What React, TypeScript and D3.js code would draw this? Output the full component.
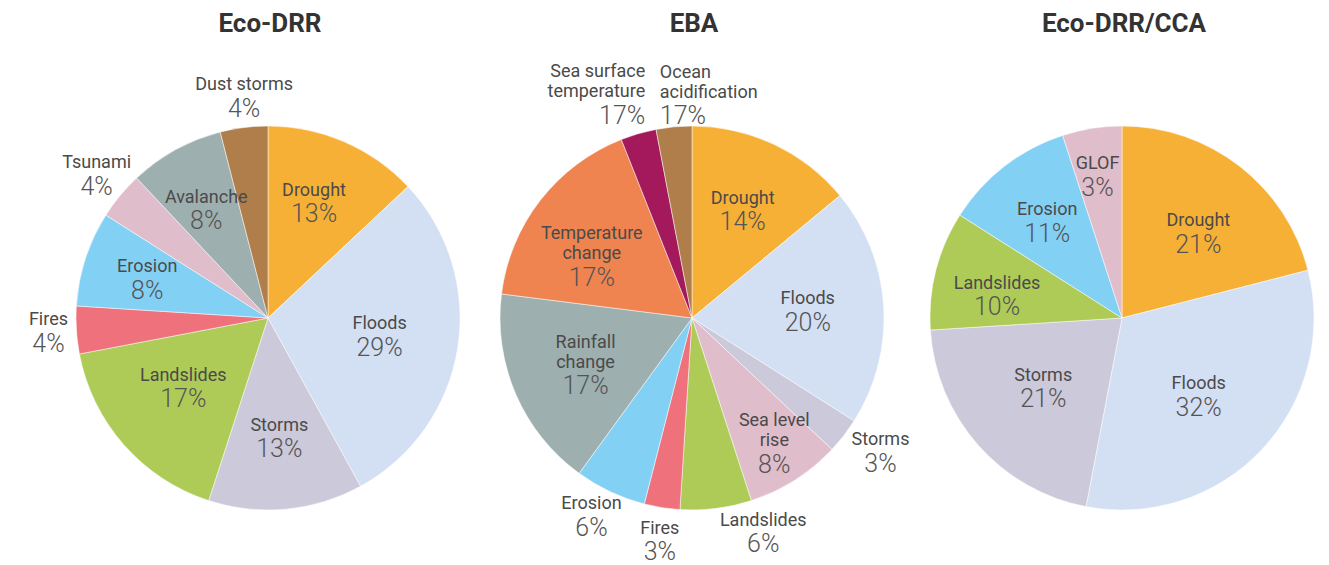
import React from "react";
import * as d3 from "d3";

// ---------- DATA ----------
const drrCategories = ["Drought", "Floods", "Storms", "Landslides", "Fires", "Erosion", "Tsunami", "Avalanche", "Dust storms"];
const drrValues = [13, 29, 13, 17, 4, 8, 4, 8, 4];
const drrPctLabels = ["13%", "29%", "13%", "17%", "4%", "8%", "4%", "8%", "4%"];

const ebaCategories = ["Drought", "Floods", "Storms", "Sea level\nrise", "Landslides", "Fires", "Erosion", "Rainfall\nchange", "Temperature\nchange", "Sea surface\ntemperature", "Ocean\nacidification"];
const ebaValues = [14, 20, 3, 8, 6, 3, 6, 17, 17, 3, 3];
const ebaPctLabels = ["14%", "20%", "3%", "8%", "6%", "3%", "6%", "17%", "17%", "17%", "17%"];

const ccaCategories = ["Drought", "Floods", "Storms", "Landslides", "Erosion", "GLOF"];
const ccaValues = [21, 32, 21, 10, 11, 5];
const ccaPctLabels = ["21%", "32%", "21%", "10%", "11%", "3%"];

const chartTitles = ["Eco-DRR", "EBA", "Eco-DRR/CCA"];

// ---------- STYLES / LAYOUT ----------
const colorMap: Record<string, string> = {
  "Drought": "#F7B036",
  "Floods": "#D3DFF3",
  "Storms": "#CCC9DA",
  "Landslides": "#AECB57",
  "Fires": "#EE717C",
  "Erosion": "#83D0F5",
  "Tsunami": "#E0BDCB",
  "Avalanche": "#9EAFAF",
  "Dust storms": "#B07E4A",
  "Sea level\nrise": "#E0BDCB",
  "Rainfall\nchange": "#9EAFAF",
  "Temperature\nchange": "#EF8450",
  "Sea surface\ntemperature": "#A3195B",
  "Ocean\nacidification": "#B07E4A",
  "GLOF": "#E0BDCB",
};

type LabelLayout = { r: number; dx?: number; dy?: number; anchor?: string };

const drrLayout: LabelLayout[] = [
  { r: 126, dx: -4 }, { r: 113 }, { r: 120 }, { r: 109, dx: -3, dy: -3 }, { r: 220 },
  { r: 127 }, { r: 225, dx: 2 }, { r: 124, dx: -2 }, { r: 223, dx: 4 },
];
const ebaLayout: LabelLayout[] = [
  { r: 119 }, { r: 116 }, { r: 231, dx: 6, dy: -8 }, { r: 148, dx: 3 }, { r: 225, dx: 43, dy: -9 },
  { r: 225, dx: 3 }, { r: 222, dx: -6, dy: -3 }, { r: 116 }, { r: 118, dx: -7, dy: 10 },
  { r: 225, dx: 16, dy: -8, anchor: "end" }, { r: 225, dx: -11, dy: 0, anchor: "start" },
];
const ccaLayout: LabelLayout[] = [
  { r: 118, dx: 4, dy: 8 }, { r: 108, dx: -2, dy: 4 }, { r: 105 }, { r: 127, dx: -2, dy: 9 }, { r: 122 }, { r: 144, dx: -2 },
];

const W = 1329;
const H = 565;
const R = 192;
const centers = [
  { x: 268, y: 318 },
  { x: 692, y: 318 },
  { x: 1122, y: 318 },
];

type PieProps = {
  title: string;
  categories: string[];
  values: number[];
  pctLabels: string[];
  layout: LabelLayout[];
  cx: number;
  cy: number;
};

function Pie({ title, categories, values, pctLabels, layout, cx, cy }: PieProps) {
  const items = categories.map((c, i) => ({ name: c, value: values[i], pct: pctLabels[i], i }));
  const pie = d3.pie<any>().sort(null).value((d: any) => d.value);
  const arcs = pie(items);
  const arc = d3.arc<any>().innerRadius(0).outerRadius(R);

  return (
    <g>
      <text
        x={cx + 2}
        y={32}
        textAnchor="middle"
        fontFamily="Roboto, 'Noto Sans', sans-serif"
        fontWeight={700}
        fontSize={26}
        fill="#333"
      >
        {title}
      </text>
      <g transform={`translate(${cx},${cy})`}>
        {arcs.map((a: any, i: number) => (
          <path key={i} d={arc(a) as string} fill={colorMap[a.data.name]} stroke="#ffffff" strokeWidth={0.5} />
        ))}
        {arcs.map((a: any, i: number) => {
          const lay = layout[i];
          const mid = (a.startAngle + a.endAngle) / 2;
          const px = lay.r * Math.sin(mid) + (lay.dx || 0);
          const py = -lay.r * Math.cos(mid) + (lay.dy || 0);
          const lines = a.data.name.split("\n");
          const n = lines.length;
          const lh = 20;
          const first = py - (13 + lh * (n - 1)) / 2;
          const anchor = lay.anchor || "middle";
          return (
            <g key={"l" + i}>
              {lines.map((ln: string, j: number) => (
                <text key={j} x={px} y={first + j * lh} textAnchor={anchor} fontFamily="Roboto, 'Noto Sans', sans-serif" fontSize={18} fill="#4a4a4a">
                  {ln}
                </text>
              ))}
              <text x={px} y={first + lh * (n - 1) + 26.5} textAnchor={anchor} fontFamily="'Roboto Light', Roboto, 'Noto Sans', sans-serif" fontSize={25} fontWeight={300} fill="#555">
                {a.data.pct}
              </text>
            </g>
          );
        })}
      </g>
    </g>
  );
}

export default function App() {
  return (
    <svg
      width={W}
      height={H}
      viewBox={`0 0 ${W} ${H}`}
      style={{ position: "absolute", left: 0, top: 0, display: "block", background: "#fff" }}
    >
      <rect x={0} y={0} width={W} height={H} fill="#fff" />
      <Pie title={chartTitles[0]} categories={drrCategories} values={drrValues} pctLabels={drrPctLabels} layout={drrLayout} cx={centers[0].x} cy={centers[0].y} />
      <Pie title={chartTitles[1]} categories={ebaCategories} values={ebaValues} pctLabels={ebaPctLabels} layout={ebaLayout} cx={centers[1].x} cy={centers[1].y} />
      <Pie title={chartTitles[2]} categories={ccaCategories} values={ccaValues} pctLabels={ccaPctLabels} layout={ccaLayout} cx={centers[2].x} cy={centers[2].y} />
    </svg>
  );
}
